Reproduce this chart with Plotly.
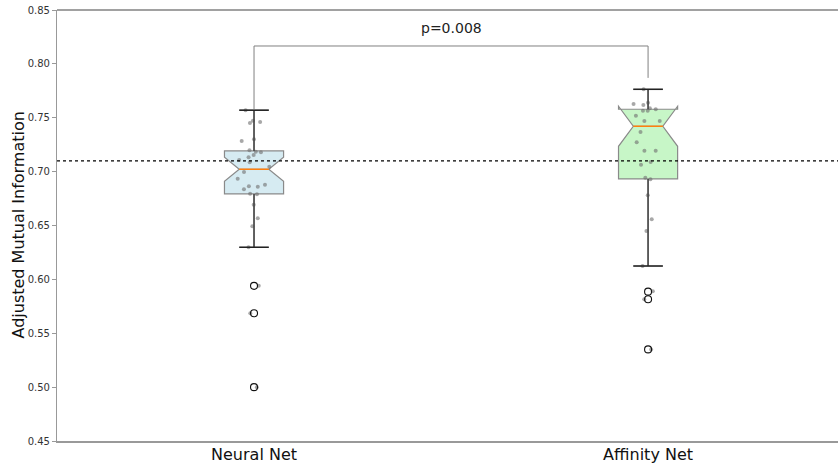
import plotly.graph_objects as go

# ---------------- data ----------------
categories = ["Neural Net", "Affinity Net"]

neural_values = [0.757, 0.7473, 0.746, 0.7451, 0.730, 0.7284, 0.7198, 0.7185, 0.7179,
                 0.7154, 0.7133, 0.7108, 0.7086, 0.7046, 0.6997, 0.6934, 0.686, 0.6879,
                 0.6864, 0.6836, 0.6795, 0.6789, 0.6693, 0.6567, 0.6492, 0.6298,
                 0.594, 0.5685, 0.500]
affinity_values = [0.7764, 0.7627, 0.7618, 0.7639, 0.7588, 0.7579, 0.7566, 0.7566, 0.7519,
                   0.747, 0.747, 0.7368, 0.7272, 0.7194, 0.7194, 0.7089, 0.7064, 0.6944,
                   0.6929, 0.678, 0.6557, 0.6449, 0.6124, 0.589, 0.5815, 0.535]

# box statistics
q1_vals = [0.6793, 0.6932]
median_vals = [0.7022, 0.7421]
q3_vals = [0.7192, 0.7579]
lower_whisker = [0.6298, 0.6124]
upper_whisker = [0.757, 0.7764]
notch_span = [0.0112, 0.0186]

neural_outliers = [0.594, 0.5685, 0.500]
affinity_outliers = [0.5886, 0.5815, 0.535]

reference_line = 0.7099
p_text = "p=0.008"
bracket_y = 0.8166
bracket_left_end = 0.758
bracket_right_end = 0.787

y_ticks = [0.45, 0.50, 0.55, 0.60, 0.65, 0.70, 0.75, 0.80, 0.85]

fill_colors = ["rgba(173,216,230,0.5)", "rgba(144,238,144,0.5)"]

# ---------------- figure ----------------
positions = list(range(len(categories)))
box_w = 0.15
half_notch = box_w / 4

fig = go.Figure()

for i, cat in enumerate(categories):
    fig.add_trace(go.Box(
        x=[positions[i]], q1=[q1_vals[i]], median=[median_vals[i]], q3=[q3_vals[i]],
        lowerfence=[lower_whisker[i]], upperfence=[upper_whisker[i]],
        notchspan=[notch_span[i]], notched=True, notchwidth=0.25,
        width=box_w, whiskerwidth=0.5, boxpoints=False,
        fillcolor=fill_colors[i], line=dict(color="#8a8a8a", width=1.2),
        showlegend=False, name=cat,
    ))

# whiskers and caps (darker, on top of the box)
for i in range(len(categories)):
    p = positions[i]
    for y0, y1 in [(q3_vals[i], upper_whisker[i]), (q1_vals[i], lower_whisker[i])]:
        fig.add_trace(go.Scatter(x=[p, p], y=[y0, y1], mode="lines",
                                 line=dict(color="#444444", width=1.5),
                                 showlegend=False, hoverinfo="skip"))
        fig.add_trace(go.Scatter(x=[p - half_notch, p + half_notch], y=[y1, y1], mode="lines",
                                 line=dict(color="#222222", width=1.5),
                                 showlegend=False, hoverinfo="skip"))
    # orange median
    fig.add_trace(go.Scatter(x=[p - half_notch, p + half_notch],
                             y=[median_vals[i], median_vals[i]], mode="lines",
                             line=dict(color="#ff7f0e", width=1.5),
                             showlegend=False, hoverinfo="skip"))

# jittered sample points (plotly's own jitter)
for i, vals in enumerate([neural_values, affinity_values]):
    fig.add_trace(go.Box(
        x=[positions[i]] * len(vals), y=vals, boxpoints="all", jitter=0.6, pointpos=0,
        width=box_w, fillcolor="rgba(0,0,0,0)", line=dict(width=0, color="rgba(0,0,0,0)"),
        marker=dict(color="rgba(110,110,110,0.6)", size=4),
        showlegend=False, name=categories[i],
    ))

# outlier circles
for i, outs in enumerate([neural_outliers, affinity_outliers]):
    fig.add_trace(go.Scatter(
        x=[positions[i]] * len(outs), y=outs, mode="markers",
        marker=dict(symbol="circle-open", size=7, color="#111111", line=dict(width=1.1)),
        showlegend=False, hoverinfo="skip",
    ))

# significance bracket
fig.add_trace(go.Scatter(
    x=[positions[0], positions[0], positions[1], positions[1]],
    y=[bracket_left_end, bracket_y, bracket_y, bracket_right_end],
    mode="lines", line=dict(color="#808080", width=1), showlegend=False, hoverinfo="skip",
))
fig.add_annotation(x=(positions[0] + positions[1]) / 2, y=bracket_y, text=p_text,
                   showarrow=False, yanchor="bottom", yshift=8,
                   font=dict(family="DejaVu Sans", size=14, color="#222222"))

# reference dotted line
fig.add_shape(type="line", xref="paper", x0=0, x1=1, y0=reference_line, y1=reference_line,
              line=dict(color="black", width=1.3, dash="dot"))
# top spine
fig.add_shape(type="line", xref="paper", yref="paper", x0=0, x1=1, y0=1, y1=1,
              line=dict(color="#444444", width=1.2))

fig.add_annotation(xref="paper", yref="paper", x=0, y=0.5, xshift=-39,
                   text="Adjusted Mutual Information", textangle=-90, showarrow=False,
                   xanchor="center", yanchor="middle",
                   font=dict(family="DejaVu Sans", size=16, color="#111111"))

fig.update_layout(
    width=838, height=463,
    margin=dict(l=57, r=0, t=10, b=22),
    paper_bgcolor="white", plot_bgcolor="white",
    boxmode="overlay",
    font=dict(family="DejaVu Sans"),
    xaxis=dict(range=[-0.5, 1.482], tickvals=positions, ticktext=categories,
               showgrid=False, zeroline=False, showline=True, linecolor="#999999",
               linewidth=1.5, ticks="", tickfont=dict(size=16, color="#111111"),
               ticklabelstandoff=-2, automargin=False, fixedrange=True),
    yaxis=dict(range=[0.45, 0.85], tickvals=y_ticks, tickformat=".2f",
               showgrid=False, zeroline=False, showline=True, linecolor="#999999",
               linewidth=1.2, ticks="outside", ticklen=4, tickcolor="#999999",
               tickfont=dict(size=10, color="#333333"), automargin=False),
)

fig.write_html("out.html", config={"displayModeBar": False},
               post_script="document.body.style.margin='0';document.body.style.overflow='hidden';")
